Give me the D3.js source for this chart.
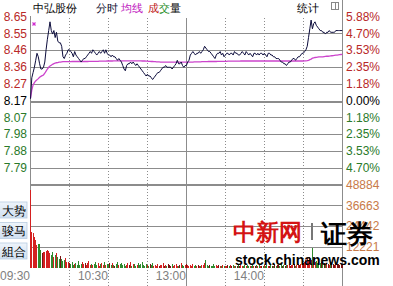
<!DOCTYPE html>
<html><head><meta charset="utf-8">
<script src="https://cdn.jsdelivr.net/npm/d3@7/dist/d3.min.js"></script>
<style>body{margin:0;background:#fff}svg{display:block}text{font-family:"Liberation Sans",Arial,sans-serif}</style>
</head><body><svg id="c" width="393" height="286"></svg>
<script>
const basePrice = 8.17;
const priceTickLabels = ["8.65","8.55","8.46","8.36","8.27","8.17","8.07","7.98","7.88","7.79"];
const pctTicks = [5.88,4.70,3.53,2.35,1.18,0,-1.18,-2.35,-3.53,-4.70];
const pctTickLabels = ["5.88%","4.70%","3.53%","2.35%","1.18%","0.00%","1.18%","2.35%","3.53%","4.70%"];
const volTicks = [48884,36663,24442,12221];
const timeTicks = [0,60,120,180];
const timeLabels = ["09:30","10:30","13:00","14:00"];
const buttons = ["大势","骏马","組合"];

const price = [
8.18,8.30,8.33,8.36,8.40,8.44,8.42,8.38,8.35,8.35,
8.36,8.39,8.46,8.52,8.57,8.62,8.57,8.55,8.57,8.53,
8.56,8.51,8.50,8.50,8.48,8.42,8.41,8.43,8.44,8.46,
8.46,8.45,8.44,8.42,8.45,8.43,8.42,8.41,8.40,8.39,
8.40,8.41,8.41,8.42,8.43,8.44,8.45,8.44,8.46,8.45,
8.44,8.43,8.44,8.45,8.44,8.45,8.46,8.44,8.46,8.44,
8.43,8.43,8.42,8.43,8.42,8.42,8.41,8.40,8.41,8.40,
8.39,8.37,8.35,8.34,8.37,8.38,8.38,8.39,8.38,8.39,
8.38,8.37,8.38,8.37,8.36,8.35,8.34,8.33,8.32,8.31,
8.32,8.31,8.31,8.30,8.29,8.30,8.31,8.32,8.33,8.33,
8.34,8.35,8.36,8.36,8.37,8.36,8.36,8.36,8.36,8.35,
8.36,8.37,8.38,8.40,8.38,8.38,8.39,8.37,8.36,8.37,
8.37,
8.39,8.40,8.43,8.44,8.45,8.44,8.43,8.44,8.44,8.45,
8.44,8.45,8.46,8.48,8.47,8.46,8.45,8.45,8.44,8.43,
8.42,8.41,8.43,8.44,8.44,8.45,8.43,8.44,8.42,8.43,
8.44,8.44,8.43,8.44,8.44,8.43,8.45,8.44,8.44,8.43,
8.43,8.44,8.45,8.44,8.43,8.45,8.44,8.43,8.44,8.43,
8.42,8.44,8.44,8.43,8.44,8.43,8.44,8.44,8.43,8.44,
8.43,8.42,8.44,8.44,8.43,8.43,8.42,8.42,8.41,8.41,
8.41,8.40,8.39,8.39,8.38,8.38,8.37,8.38,8.39,8.39,
8.40,8.41,8.41,8.40,8.41,8.42,8.42,8.43,8.44,8.44,
8.45,8.46,8.48,8.53,8.58,8.63,8.58,8.61,8.62,8.60,
8.59,8.58,8.57,8.57,8.56,8.56,8.55,8.56,8.56,8.57,
8.56,8.56,8.56,8.56,8.57,8.57,8.57,8.57,8.57,8.57
];

const avgPrice = [
8.183,8.230,8.259,8.272,8.282,8.288,8.295,8.303,8.308,8.312,
8.316,8.326,8.338,8.350,8.360,8.367,8.372,8.377,8.381,8.384,
8.386,8.387,8.389,8.390,8.391,8.392,8.392,8.392,8.392,8.392,
8.392,8.392,8.393,8.393,8.393,8.393,8.393,8.393,8.393,8.393,
8.393,8.393,8.393,8.393,8.393,8.394,8.394,8.394,8.394,8.394,
8.394,8.394,8.394,8.395,8.395,8.395,8.395,8.395,8.395,8.396,
8.396,8.396,8.396,8.396,8.397,8.397,8.397,8.397,8.397,8.397,
8.397,8.397,8.397,8.397,8.397,8.397,8.397,8.397,8.397,8.397,
8.397,8.397,8.397,8.397,8.397,8.397,8.396,8.396,8.396,8.395,
8.395,8.394,8.394,8.393,8.393,8.392,8.392,8.391,8.391,8.391,
8.390,8.390,8.390,8.390,8.390,8.390,8.390,8.390,8.390,8.390,
8.390,8.390,8.390,8.390,8.390,8.390,8.390,8.390,8.390,8.390,
8.390,
8.390,8.390,8.390,8.390,8.390,8.391,8.391,8.391,8.391,8.391,
8.391,8.392,8.392,8.392,8.392,8.392,8.393,8.393,8.393,8.393,
8.393,8.393,8.393,8.394,8.394,8.394,8.394,8.394,8.394,8.394,
8.394,8.395,8.395,8.395,8.395,8.395,8.395,8.395,8.395,8.395,
8.395,8.396,8.396,8.396,8.396,8.396,8.396,8.396,8.396,8.396,
8.396,8.396,8.396,8.396,8.396,8.396,8.396,8.396,8.396,8.396,
8.396,8.396,8.396,8.396,8.396,8.396,8.396,8.396,8.396,8.396,
8.396,8.396,8.396,8.396,8.396,8.396,8.396,8.396,8.396,8.396,
8.396,8.396,8.396,8.396,8.396,8.396,8.396,8.396,8.396,8.396,
8.397,8.397,8.398,8.400,8.404,8.407,8.412,8.414,8.416,8.417,
8.418,8.419,8.419,8.420,8.420,8.421,8.422,8.423,8.423,8.424,
8.425,8.426,8.427,8.428,8.429,8.430,8.431,8.432,8.433,8.434
];

const volume = [
45640,21080,20140,18140,16200,13250,13660,13660,10300,8360,
9300,9300,9700,10300,9700,8360,7360,9300,6360,7360,
8360,6360,5000,6900,5000,3830,4400,5770,3450,3060,
2400,1800,3100,1500,2200,2900,1700,3600,1300,2100,
3300,1900,2500,1200,2800,3700,1600,2300,1400,2000,
3100,1700,2600,1100,1900,2700,1500,3200,1300,2200,
1800,2400,1200,2900,1600,1000,2100,3400,1400,1800,
2600,1200,2200,900,1700,2500,1300,3000,1100,1900,
2300,1000,1600,2800,1200,2000,3400,1500,1100,2300,
1600,1000,1900,1300,2600,900,1500,1100,2100,800,
1700,1300,2400,1000,1500,800,1900,1200,1000,2200,
900,1400,1800,1100,700,1600,2700,1200,900,1500,
2000,
1300,800,1600,1000,2100,900,1200,700,1500,1100,
800,1700,1200,2400,4400,1400,900,1300,700,1100,
1800,900,1200,600,1500,1000,800,1300,700,1100,
900,1400,700,1200,1000,1700,800,1100,600,1300,
900,1500,700,1000,1200,800,1400,600,1100,900,
1300,700,1000,1600,800,1200,700,1100,900,1500,
800,1200,1000,700,1400,900,1100,1800,800,1300,
1600,1000,2100,900,1400,1100,1700,1200,2000,900,
1500,1300,1800,1000,1600,2200,1300,1900,1500,2600,
3100,4200,5600,3800,6200,4600,11300,5200,3500,4100,
2800,3300,2400,3000,2100,2700,1800,2500,2200,1600,
2900,1900,2300,1500,2600,1800,2000,1400,2300,1700
];

const svg = d3.select("#c");
const L = 30.5, R = 342.3, TOP = 16.5, MID = 184.5, VBOT = 267.5;
const x = d3.scaleLinear().domain([0,240]).range([L,R]);
const yPct = d3.scaleLinear().domain([-5.88,5.88]).range([MID,TOP]);
const yP = d3.scaleLinear().domain([basePrice*(1-0.0588), basePrice*(1+0.0588)]).range([MID,TOP]);
const yV = d3.scaleLinear().domain([0,48884]).range([VBOT,MID]);
const grid = "#8c8c8c";
const red = "#b82828", green = "#2a7a2a";

svg.append("rect").attr("width",393).attr("height",286).attr("fill","#fff");

// horizontal grid (price)
const g = svg.append("g").attr("shape-rendering","crispEdges");
pctTicks.forEach(p => {
  if (p === 5.88) return;
  g.append("line").attr("x1",L).attr("x2",R).attr("y1",Math.round(yPct(p))+0.5).attr("y2",Math.round(yPct(p))+0.5)
    .attr("stroke",grid).attr("stroke-width",p===0?2:1);
});
g.append("line").attr("x1",L).attr("x2",R).attr("y1",MID).attr("y2",MID).attr("stroke",grid).attr("stroke-width",2);
volTicks.slice(1).forEach(v => {
  g.append("line").attr("x1",L).attr("x2",R).attr("y1",Math.round(yV(v))+0.5).attr("y2",Math.round(yV(v))+0.5)
    .attr("stroke",grid).attr("stroke-width",1);
});
// vertical grid
[30,60,90,150,180,210].forEach(t => {
  g.append("line").attr("x1",Math.round(x(t))+0.5).attr("x2",Math.round(x(t))+0.5).attr("y1",18).attr("y2",286)
    .attr("stroke",grid).attr("stroke-dasharray","1,2");
});
g.append("line").attr("x1",Math.round(x(120))+0.5).attr("x2",Math.round(x(120))+0.5).attr("y1",18).attr("y2",286).attr("stroke",grid);
g.append("line").attr("x1",30.5).attr("x2",30.5).attr("y1",16).attr("y2",VBOT).attr("stroke",grid);
g.append("line").attr("x1",342.5).attr("x2",342.5).attr("y1",0).attr("y2",286).attr("stroke",grid);

// volume bars
svg.append("g").attr("shape-rendering","crispEdges").selectAll("rect").data(volume).join("rect")
  .attr("x",(d,i)=>Math.floor(x(i)))
  .attr("width",1)
  .attr("y",d=>yV(d))
  .attr("height",d=>VBOT-yV(d))
  .attr("fill",(d,i)=> i===0 ? "#d42020" : (price[i]>price[i-1] ? "#d42020" : (price[i]<price[i-1] ? "#2e8a2e" : "#7a1414")));

// avg line
svg.append("path").datum(avgPrice)
  .attr("d", d3.line().x((d,i)=>x(i)).y(d=>yP(d)))
  .attr("fill","none").attr("stroke","#cc44cc").attr("stroke-width",1.3);
// price line
svg.append("path").datum(price)
  .attr("d", d3.line().x((d,i)=>x(i)).y(d=>yP(d)))
  .attr("fill","none").attr("stroke","#0c0c3c").attr("stroke-width",1);

// magenta marker
const mk = svg.append("g").attr("stroke","#d030d0").attr("stroke-width",1.2);
mk.append("line").attr("x1",32.5).attr("y1",22.5).attr("x2",35.5).attr("y2",25.5);
mk.append("line").attr("x1",35.5).attr("y1",22.5).attr("x2",32.5).attr("y2",25.5);

// left price axis labels
const leftAxis = d3.axisLeft(yPct).tickValues(pctTicks).tickSize(0).tickPadding(0)
  .tickFormat((d,i)=>priceTickLabels[i]);
const la = svg.append("g").attr("transform","translate(27,0)").call(leftAxis);
la.select(".domain").remove();
la.selectAll("text").attr("font-size",12).attr("font-family","Liberation Sans, Arial, sans-serif")
  .attr("fill",d=> d>0?red:(d<0?green:"#000"));

// right pct axis labels
const rightAxis = d3.axisRight(yPct).tickValues(pctTicks).tickSize(0).tickPadding(0)
  .tickFormat((d,i)=>pctTickLabels[i]);
const ra = svg.append("g").attr("transform","translate(346,0)").call(rightAxis);
ra.select(".domain").remove();
ra.selectAll("text").attr("font-size",12).attr("font-family","Liberation Sans, Arial, sans-serif")
  .attr("fill",d=> d>0?red:(d<0?green:"#000"));

// right volume labels
const volAxis = d3.axisRight(yV).tickValues(volTicks).tickSize(0).tickPadding(0).tickFormat(d=>String(d));
const va = svg.append("g").attr("transform","translate(346,0)").call(volAxis);
va.select(".domain").remove();
va.selectAll("text").attr("font-size",12).attr("font-family","Liberation Sans, Arial, sans-serif").attr("fill","#c87a48");

// time axis
const tAxis = d3.axisBottom(x).tickValues(timeTicks).tickSize(0).tickPadding(0).tickFormat((d,i)=>timeLabels[i]);
const ta = svg.append("g").attr("transform","translate(-1,271)").call(tAxis);
ta.select(".domain").remove();
ta.selectAll("text").attr("font-size",12).attr("font-family","Liberation Sans, Arial, sans-serif")
  .attr("fill","#808080").attr("text-anchor","end").attr("dy","0.71em");

// header
const hf = "Noto Sans CJK SC, sans-serif";
const hdr = [["中弘股份",33,"#000"],["分时",96,"#101030"],["均线",121,"#c020c0"],["成",148,"#c01818"],["交",159,"#1a8a1a"],["量",170,"#000"],["统计",297,"#000"]];
hdr.forEach(h => svg.append("text").attr("x",h[1]).attr("y",11.5).attr("font-size",11).attr("font-family",hf).attr("fill",h[2]).text(h[0]));
svg.append("rect").attr("x",331.5).attr("y",2.5).attr("width",7).attr("height",7).attr("fill","#fff").attr("stroke","#888");
svg.append("line").attr("x1",335.5).attr("x2",335.5).attr("y1",2.5).attr("y2",9.5).attr("stroke","#888");

// left buttons
const grad = svg.append("defs").append("linearGradient").attr("id","bg").attr("x1",0).attr("y1",0).attr("x2",0).attr("y2",1);
grad.append("stop").attr("offset","0").attr("stop-color","#eef4fb");
grad.append("stop").attr("offset","1").attr("stop-color","#cfdff0");
buttons.forEach((b,i) => {
  const yy = 202 + i*20.5;
  svg.append("rect").attr("x",-2).attr("y",yy).attr("width",29).attr("height",16).attr("fill","url(#bg)").attr("stroke","#b8cce0").attr("stroke-width",0.8);
  svg.append("text").attr("x",2).attr("y",yy+12.5).attr("font-size",11.5).attr("font-family",hf).attr("fill","#000").text(b);
});

// watermark
svg.append("text").attr("x",233).attr("y",240).attr("font-size",23).attr("font-weight",900).attr("font-family",hf).attr("fill","#d41414").text("中新网");
svg.append("rect").attr("x",311).attr("y",223).attr("width",2).attr("height",17).attr("fill","#777");
svg.append("text").attr("x",321).attr("y",243).attr("font-size",26).attr("font-weight",900).attr("font-family",hf).attr("fill","#000").text("证券");
svg.append("text").attr("x",235).attr("y",265).attr("font-size",14).attr("font-weight","bold").attr("font-family","Liberation Sans, Arial, sans-serif").attr("fill","#000").text("stock.chinanews.com");
</script></body></html>
